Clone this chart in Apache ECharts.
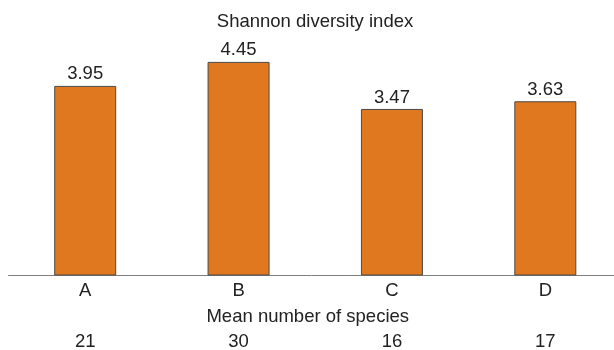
<!DOCTYPE html>
<html>
<head>
<meta charset="utf-8">
<script src="https://cdn.jsdelivr.net/npm/echarts@6/dist/echarts.min.js"></script>
<style>
  html, body { margin: 0; padding: 0; background: #fff; }
  #chart { width: 614px; height: 350px; }
</style>
</head>
<body>
<div id="chart"></div>
<script>
const sites = ['A', 'B', 'C', 'D'];
const shannonIndex = [3.95, 4.45, 3.47, 3.63];
const meanSpecies = ['21', '30', '16', '17'];

const font = 'Liberation Sans, Arial, sans-serif';
const textColor = '#222';
const fontSize = 18.5;

const chart = echarts.init(document.getElementById('chart'));
chart.setOption({
  animation: false,
  title: {
    text: 'Shannon diversity index',
    left: 310,
    textAlign: 'center',
    top: 7,
    textStyle: { fontFamily: font, fontSize: fontSize, fontWeight: 'normal', color: textColor }
  },
  // category band ~153px wide, axis runs off the right edge
  grid: { left: 8.5, width: 613.5, top: 35.5, height: 240, outerBoundsMode: 'none', containLabel: false },
  xAxis: [
    {
      type: 'category',
      data: sites,
      position: 'bottom',
      axisLine: { lineStyle: { color: '#808080', width: 1 } },
      axisTick: { show: false },
      axisLabel: { fontFamily: font, fontSize: fontSize, color: textColor, margin: 6 },
      name: 'Mean number of species',
      nameLocation: 'middle',
      nameGap: 32,
      nameTextStyle: { fontFamily: font, fontSize: fontSize, color: textColor, padding: [0, 15, 0, 0] }
    },
    {
      type: 'category',
      data: meanSpecies,
      position: 'bottom',
      offset: 51,
      axisLine: { show: false },
      axisTick: { show: false },
      axisLabel: { fontFamily: font, fontSize: fontSize, color: textColor, margin: 6 }
    }
  ],
  yAxis: {
    type: 'value',
    min: 0,
    max: 5,
    show: false
  },
  series: [{
    type: 'bar',
    data: shannonIndex,
    barWidth: 62,
    itemStyle: { color: '#DF781E', borderColor: '#4a4a4a', borderWidth: 1 },
    label: {
      show: true,
      position: 'top',
      distance: 2,
      formatter: p => p.value.toFixed(2),
      fontFamily: font,
      fontSize: fontSize,
      color: textColor
    }
  }]
});
</script>
</body>
</html>
